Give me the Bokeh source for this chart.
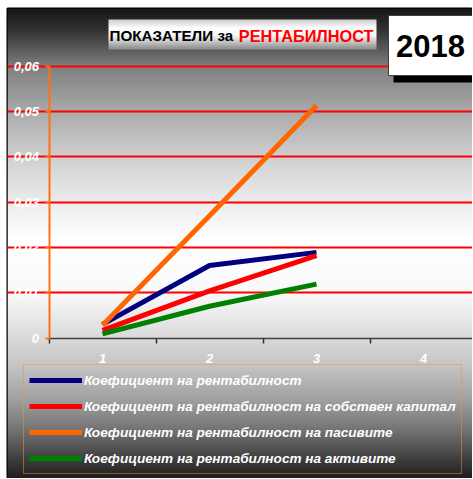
import numpy as np
from bokeh.plotting import figure
from bokeh.models import (LinearAxis, FixedTicker, Grid, Legend, LegendItem,
                          Label, Range1d)
from bokeh.embed import file_html
from bokeh.resources import INLINE

# ---------------- data ----------------
categories = [1, 2, 3]
x_tick_values = [1, 2, 3, 4]
x_tick_labels = ["1", "2", "3", "4"]
y_tick_values = [0, 0.01, 0.02, 0.03, 0.04, 0.05, 0.06]
y_tick_labels = ["0", "0,01", "0,02", "0,03", "0,04", "0,05", "0,06"]

series_names = [
    "Коефициент на рентабилност",
    "Коефициент на рентабилност на собствен капитал",
    "Коефициент на рентабилност на пасивите",
    "Коефициент на рентабилност на активите",
]
rentabilnost = [0.0030, 0.0160, 0.0189]
sobstven_kapital = [0.0017, 0.0104, 0.0182]
pasivite = [0.0028, 0.0270, 0.0513]
aktivite = [0.0009, 0.0070, 0.0119]
series_values = [rentabilnost, sobstven_kapital, pasivite, aktivite]
series_colors = ["#000080", "#ff0000", "#ff6600", "#008000"]

title_black = "ПОКАЗАТЕЛИ за"
title_red = "РЕНТАБИЛНОСТ"
year_text = "2018"

# ---------------- geometry (page pixel -> data) ----------------
W, H = 472, 478
FL, FT = 7, 8          # frame left / top on the page
XPX = 107.0            # pixels per category
YPX = 4530.0           # pixels per unit value
AX_X = 48.5            # page x of the value axis
AX_Y = 337.5           # page y of the zero line


def X(px):
    return 0.5 + (px - AX_X) / XPX


def Y(py):
    return (AX_Y - py) / YPX


p = figure(width=W, height=H, output_backend="svg", toolbar_location=None,
           x_axis_type=None, y_axis_type=None,
           x_range=Range1d(X(FL), X(W)),
           y_range=Range1d(Y(H), Y(FT)),
           min_border_left=FL, min_border_top=FT,
           min_border_right=0, min_border_bottom=0)
p.outline_line_color = "black"
p.outline_line_width = 2
p.background_fill_color = "#808080"
p.border_fill_color = "white"

# background gradient
stops_y = [8, 30, 67, 113, 157, 202, 240, 280, 300, 338, 367, 400, 430, 455, 479]
stops_v = [22, 50, 128, 172, 208, 236, 255, 252, 246, 218, 196, 160, 115, 70, 28]
rows = np.arange(H, FT, -1, dtype=float)  # bottom row first
g = np.interp(rows, stops_y, stops_v).astype(np.uint8)
img = np.empty((len(rows), 2), dtype=np.uint32)
v = img.view(dtype=np.uint8).reshape((len(rows), 2, 4))
v[:, :, 0] = g[:, None]
v[:, :, 1] = g[:, None]
v[:, :, 2] = g[:, None]
v[:, :, 3] = 255
p.image_rgba(image=[img], x=X(FL), y=Y(H), dw=X(W) - X(FL),
             dh=Y(FT) - Y(H), level="image")

# grid
grid = Grid(dimension=1, ticker=FixedTicker(ticks=y_tick_values[1:]),
            grid_line_color="#ff0000", grid_line_width=2,
            bounds=(0.5, 6))
p.add_layout(grid)

# axes
yaxis = LinearAxis(fixed_location=0.5, ticker=FixedTicker(ticks=y_tick_values),
                   bounds=(0, 0.06),
                   major_label_overrides={t: l for t, l in zip(y_tick_values, y_tick_labels)},
                   axis_line_color="#ff7010", axis_line_width=2,
                   major_tick_line_color="#ff7010", major_tick_line_width=2,
                   major_tick_out=4, major_tick_in=0, minor_tick_out=0, minor_tick_in=0,
                   major_label_standoff=6,
                   major_label_text_color="white",
                   major_label_text_font="Liberation Sans",
                   major_label_text_font_style="bold italic",
                   major_label_text_font_size="13px")
p.add_layout(yaxis, "left")

xaxis_ticks = LinearAxis(fixed_location=0, ticker=FixedTicker(ticks=[0.5, 1.5, 2.5, 3.5, 4.5]),
                         bounds=(0.5, 6),
                         axis_line_color="#404040", axis_line_width=1.5,
                         major_tick_line_color="#303030", major_tick_line_width=1.5,
                         major_tick_out=5, major_tick_in=0, minor_tick_out=0, minor_tick_in=0,
                         major_label_text_alpha=0)
p.add_layout(xaxis_ticks, "below")

xaxis_labels = LinearAxis(fixed_location=0, ticker=FixedTicker(ticks=x_tick_values),
                          major_label_overrides={t: l for t, l in zip(x_tick_values, x_tick_labels)},
                          axis_line_alpha=0, major_tick_out=0, major_tick_in=0,
                          minor_tick_out=0, minor_tick_in=0,
                          major_label_standoff=16,
                          major_label_text_color="white",
                          major_label_text_font="Liberation Sans",
                          major_label_text_font_style="bold italic",
                          major_label_text_font_size="13px")
p.add_layout(xaxis_labels, "below")

# title box
ty = np.arange(49, 19, -1, dtype=float)
tg = np.interp(ty, [19, 28, 36, 49], [200, 255, 245, 140]).astype(np.uint8)
timg = np.empty((len(ty), 2), dtype=np.uint32)
tv = timg.view(dtype=np.uint8).reshape((len(ty), 2, 4))
tv[:, :, 0] = tg[:, None]
tv[:, :, 1] = tg[:, None]
tv[:, :, 2] = tg[:, None]
tv[:, :, 3] = 255
p.image_rgba(image=[timg], x=X(108), y=Y(49), dw=X(376) - X(108), dh=Y(19) - Y(49))
p.add_layout(Label(x=X(109), y=Y(35), text=title_black, text_align="left",
                   text_baseline="middle", text_font="Liberation Sans",
                   text_font_style="bold", text_font_size="15.2px", text_color="black"))
p.add_layout(Label(x=X(373), y=Y(35), text=title_red, text_align="right",
                   text_baseline="middle", text_font="Liberation Sans",
                   text_font_style="bold", text_font_size="16.3px", text_color="#ff0000"))

# year box
p.quad(left=X(393), right=X(480), top=Y(20), bottom=Y(82), fill_color="black",
       line_color=None)
p.quad(left=X(388), right=X(476), top=Y(15), bottom=Y(75), fill_color="white",
       line_color="#404040", line_width=1)
p.add_layout(Label(x=X(430), y=Y(45), text=year_text, text_align="center",
                   text_baseline="middle", text_font="Liberation Sans",
                   text_font_style="bold", text_font_size="31px", text_color="black"))

# series
items = []
for name, vals, col in zip(series_names, series_values, series_colors):
    r = p.line(categories, vals, line_color=col, line_width=5)
    items.append(LegendItem(label=name, renderers=[r]))

legend = Legend(items=items, location=(16, 4),
                border_line_color="#e89a30", border_line_width=1,
                background_fill_alpha=0,
                label_text_color="white", label_text_font="Liberation Sans",
                label_text_font_style="bold italic", label_text_font_size="13.6px",
                glyph_width=53, glyph_height=20, label_height=20,
                label_standoff=2, padding=5, spacing=6, margin=0)
p.add_layout(legend, "center")

open("out.html", "w").write(file_html(p, INLINE))
